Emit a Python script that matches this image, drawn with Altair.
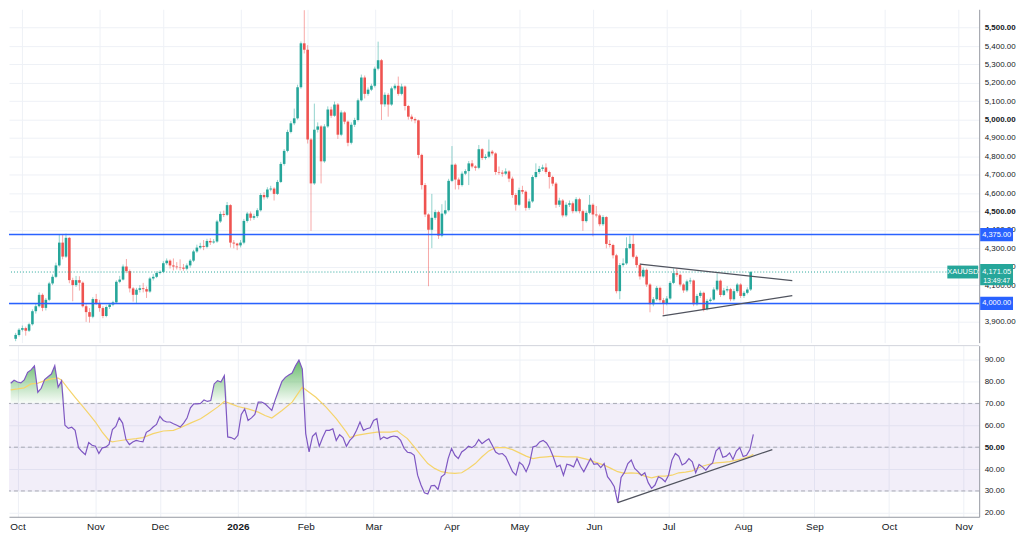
import json
import altair as alt
import pandas as pd

W = 975
H_PRICE = 335
H_RSI = 172
UP = "#26a69a"
DOWN = "#ef5350"
BLUE = "#2962ff"
GRID = "#eef1f6"
FONT = "Liberation Sans"

opens = [3808, 3829, 3857, 3866, 3852, 3887, 3958, 3985, 4047, 3976,
         4020, 4109, 4145, 4207, 4331, 4255, 4357, 4127, 4100, 4127,
         4113, 3985, 3953, 3928, 4024, 4003, 3975, 3932, 3981, 3994,
         4006, 4118, 4130, 4201, 4176, 4082, 4047, 4074, 4083, 4078,
         4065, 4136, 4145, 4166, 4172, 4219, 4233, 4207, 4201, 4197,
         4195, 4189, 4207, 4233, 4283, 4304, 4313, 4308, 4340, 4332,
         4337, 4446, 4487, 4482, 4535, 4331, 4326, 4316, 4331, 4449,
         4489, 4466, 4475, 4507, 4590, 4578, 4620, 4625, 4596, 4661,
         4759, 4830, 4933, 4980, 5007, 5176, 5415, 5380, 4892, 4653,
         4945, 4963, 4773, 4963, 5055, 5021, 5082, 4918, 5039, 4989,
         4874, 4972, 4998, 5105, 5229, 5140, 5163, 5184, 5277, 5323,
         5083, 5135, 5082, 5170, 5184, 5140, 5180, 5074, 5016, 5003,
         4996, 4808, 4644, 4484, 4401, 4466, 4497, 4369, 4489, 4507,
         4667, 4755, 4674, 4644, 4706, 4720, 4762, 4745, 4738, 4839,
         4791, 4798, 4826, 4816, 4715, 4712, 4706, 4718, 4679, 4590,
         4537, 4617, 4608, 4520, 4555, 4688, 4715, 4732, 4740, 4715,
         4688, 4652, 4537, 4560, 4479, 4537, 4545, 4502, 4567, 4502,
         4448, 4493, 4537, 4484, 4479, 4431, 4470, 4324, 4318, 4262,
         4067, 4209, 4218, 4301, 4324, 4254, 4209, 4147, 4183, 4103,
         3996, 4023, 4085, 4018, 4000, 4027, 4112, 4165, 4156, 4103,
         4071, 4120, 4125, 3996, 4041, 4058, 3970, 4014, 4021, 4076,
         4124, 4046, 4071, 4078, 4023, 4067, 4103, 4041, 4058, 4076]

highs = [3840, 3866, 3880, 3874, 3895, 3968, 3998, 4060, 4055, 4030,
         4118, 4158, 4222, 4378, 4378, 4380, 4362, 4140, 4150, 4148,
         4120, 3996, 3975, 4034, 4052, 4020, 3985, 3990, 4002, 4015,
         4126, 4150, 4212, 4242, 4185, 4090, 4085, 4100, 4112, 4092,
         4145, 4160, 4175, 4180, 4230, 4245, 4240, 4245, 4225, 4240,
         4215, 4218, 4242, 4292, 4320, 4330, 4345, 4352, 4355, 4350,
         4455, 4500, 4505, 4552, 4540, 4345, 4330, 4345, 4460, 4498,
         4500, 4488, 4518, 4600, 4605, 4632, 4640, 4632, 4672, 4770,
         4840, 4945, 4992, 5060, 5190, 5425, 5595, 5405, 4900, 5087,
         4985, 4970, 4975, 5072, 5070, 5098, 5090, 5050, 5045, 4995,
         4985, 5010, 5115, 5245, 5240, 5175, 5195, 5288, 5424, 5330,
         5148, 5145, 5180, 5195, 5234, 5195, 5186, 5080, 5028, 5012,
         5000, 4815, 4655, 4490, 4596, 4510, 4505, 4540, 4560, 4678,
         4856, 4762, 4685, 4718, 4730, 4775, 4780, 4752, 4862, 4845,
         4812, 4892, 4835, 4822, 4745, 4725, 4735, 4725, 4690, 4600,
         4630, 4640, 4615, 4570, 4698, 4762, 4748, 4755, 4762, 4722,
         4695, 4660, 4575, 4568, 4550, 4560, 4555, 4578, 4575, 4510,
         4505, 4590, 4545, 4530, 4488, 4480, 4475, 4345, 4325, 4270,
         4220, 4245, 4360, 4369, 4377, 4262, 4218, 4195, 4190, 4110,
         4035, 4095, 4092, 4030, 4040, 4122, 4191, 4190, 4162, 4110,
         4130, 4140, 4130, 4052, 4070, 4064, 4025, 4032, 4088, 4165,
         4130, 4085, 4095, 4085, 4080, 4112, 4110, 4068, 4088, 4176]

lows = [3795, 3820, 3848, 3825, 3845, 3880, 3945, 3978, 3958, 3962,
        4012, 4100, 4138, 4200, 4240, 4248, 4110, 4012, 4090, 4070,
        3978, 3900, 3896, 3920, 3992, 3955, 3920, 3925, 3970, 3985,
        4000, 4110, 4125, 4165, 4060, 4010, 4003, 4060, 4060, 4030,
        4058, 4125, 4138, 4158, 4165, 4210, 4190, 4180, 4185, 4180,
        4178, 4180, 4195, 4225, 4275, 4295, 4290, 4300, 4318, 4325,
        4330, 4438, 4470, 4475, 4304, 4300, 4290, 4305, 4322, 4440,
        4450, 4455, 4465, 4500, 4565, 4570, 4610, 4560, 4590, 4655,
        4750, 4822, 4925, 4970, 5000, 5168, 5360, 4870, 4395, 4645,
        4930, 4653, 4765, 4955, 5010, 5015, 4895, 4910, 4975, 4855,
        4865, 4960, 4990, 5098, 5115, 5130, 5155, 5175, 5268, 4998,
        5070, 5016, 5075, 5160, 5130, 5132, 5050, 5000, 4990, 4980,
        4790, 4620, 4470, 4094, 4301, 4455, 4351, 4360, 4480, 4500,
        4660, 4620, 4620, 4636, 4698, 4644, 4735, 4722, 4730, 4780,
        4782, 4790, 4805, 4700, 4700, 4690, 4698, 4660, 4575, 4505,
        4530, 4595, 4505, 4510, 4548, 4680, 4705, 4720, 4705, 4625,
        4638, 4520, 4525, 4468, 4470, 4525, 4490, 4495, 4490, 4395,
        4440, 4485, 4365, 4468, 4420, 4422, 4300, 4305, 4245, 4055,
        4023, 4200, 4210, 4295, 4245, 4195, 4130, 4140, 4090, 3952,
        3985, 4015, 4005, 3940, 3990, 4020, 4105, 4145, 4092, 4058,
        4062, 4105, 3985, 3988, 4030, 3957, 3962, 4005, 4015, 4068,
        4035, 4040, 4060, 4012, 4015, 4058, 4030, 4030, 4050, 4068]

closes = [3829, 3857, 3866, 3852, 3887, 3958, 3985, 4047, 3976, 4020,
          4109, 4145, 4207, 4331, 4255, 4357, 4127, 4100, 4127, 4113,
          3985, 3953, 3928, 4024, 4003, 3975, 3932, 3981, 3994, 4006,
          4118, 4130, 4201, 4176, 4082, 4047, 4074, 4083, 4078, 4065,
          4136, 4145, 4166, 4172, 4219, 4233, 4207, 4201, 4197, 4195,
          4189, 4207, 4233, 4283, 4304, 4313, 4308, 4340, 4332, 4337,
          4446, 4487, 4482, 4535, 4331, 4326, 4316, 4331, 4449, 4489,
          4466, 4475, 4507, 4590, 4578, 4620, 4625, 4596, 4661, 4759,
          4830, 4933, 4980, 5007, 5176, 5415, 5380, 4892, 4653, 4945,
          4963, 4773, 4963, 5055, 5021, 5082, 4918, 5039, 4989, 4874,
          4972, 4998, 5105, 5229, 5140, 5163, 5184, 5277, 5323, 5083,
          5135, 5082, 5170, 5184, 5140, 5180, 5074, 5016, 5003, 4996,
          4808, 4644, 4484, 4401, 4466, 4497, 4369, 4489, 4507, 4667,
          4755, 4674, 4644, 4706, 4720, 4762, 4745, 4738, 4839, 4791,
          4798, 4826, 4816, 4715, 4712, 4706, 4718, 4679, 4590, 4537,
          4617, 4608, 4520, 4555, 4688, 4715, 4732, 4740, 4715, 4688,
          4652, 4537, 4560, 4479, 4537, 4545, 4502, 4567, 4502, 4448,
          4493, 4537, 4484, 4479, 4431, 4470, 4324, 4318, 4262, 4067,
          4209, 4218, 4301, 4324, 4254, 4209, 4147, 4183, 4103, 3996,
          4023, 4085, 4018, 4000, 4027, 4112, 4165, 4156, 4103, 4071,
          4120, 4125, 3996, 4041, 4058, 3970, 4014, 4021, 4076, 4124,
          4046, 4071, 4078, 4023, 4067, 4103, 4041, 4058, 4076, 4171]

rsi_vals = [79.2, 80.6, 79.8, 79.4, 80.7, 84.2, 85.3, 87.1, 75.1, 76.9,
            80.9, 82.2, 83.4, 87.2, 77.4, 80.3, 60.0, 58.6, 59.1, 57.7,
            49.8, 48.0, 46.6, 52.1, 50.9, 50.4, 47.1, 49.7, 50.0, 51.3,
            58.0, 59.5, 63.4, 61.0, 53.5, 51.2, 52.4, 53.1, 52.7, 52.4,
            56.8, 57.7, 59.2, 60.4, 64.1, 62.2, 61.5, 61.5, 60.7, 60.0,
            59.2, 61.0, 63.3, 68.0, 69.8, 69.8, 70.0, 71.6, 70.9, 71.3,
            78.9, 80.4, 79.8, 82.7, 54.7, 54.4, 53.6, 55.4, 65.0, 67.5,
            62.2, 63.4, 65.0, 70.6, 70.6, 69.8, 68.3, 66.8, 71.6, 75.9,
            80.1, 81.9, 83.0, 83.9, 87.2, 89.8, 85.7, 56.2, 47.8, 55.0,
            56.5, 50.4, 54.4, 57.7, 57.7, 58.4, 53.1, 55.7, 54.4, 50.4,
            53.1, 54.7, 57.7, 61.5, 57.7, 58.4, 58.9, 62.2, 63.0, 53.5,
            54.7, 53.9, 54.7, 55.1, 54.7, 53.1, 49.5, 47.7, 47.4, 46.3,
            37.2, 32.7, 29.2, 28.6, 32.4, 32.5, 30.7, 36.5, 37.7, 44.8,
            49.4, 46.3, 44.8, 47.8, 48.9, 50.4, 49.8, 50.9, 53.5, 51.6,
            52.8, 53.8, 50.9, 47.8, 46.8, 47.1, 45.6, 42.2, 38.8, 37.2,
            43.1, 41.8, 38.8, 42.5, 50.1, 50.6, 52.4, 53.1, 51.9, 49.4,
            45.6, 41.0, 41.8, 37.2, 42.2, 41.8, 41.0, 44.8, 41.3, 38.8,
            41.8, 44.8, 42.2, 42.5, 40.7, 42.5, 36.5, 34.5, 31.9, 24.7,
            36.2, 38.5, 42.5, 44.1, 40.3, 38.8, 37.1, 38.3, 33.8, 31.2,
            32.7, 36.5, 35.7, 34.2, 37.2, 44.1, 47.1, 45.9, 41.9, 42.8,
            44.8, 43.3, 38.3, 42.1, 41.0, 39.5, 41.6, 42.8, 48.3, 49.8,
            45.4, 45.9, 47.4, 44.4, 48.2, 49.8, 45.7, 46.3, 48.9, 55.9]

ma_bars = [0, 2, 4, 6, 8, 10, 12, 14, 15, 17, 19, 21, 23, 25, 27, 29, 30, 31, 34, 37,
           39, 42, 45, 48, 50, 53, 56, 58, 61, 63, 65, 67, 70, 73, 75, 77, 80, 83, 86, 88,
           90, 93, 96, 99, 100, 102, 105, 108, 110, 112, 114, 115, 117, 119, 121, 123, 125, 127, 129, 131,
           133, 135, 137, 139, 141, 143, 145, 146, 148, 150, 152, 154, 156, 158, 160, 164, 167, 170, 173, 175,
           177, 179, 181, 183, 185, 187, 189, 191, 193, 195, 197, 199, 201, 202, 204, 206, 208, 210, 212, 214,
           216, 218, 219]
ma_vals = [76.2, 76.6, 77.1, 78.9, 79.2, 80.4, 81.2, 81.6, 80.6, 76.6, 72.8, 69.1, 65.3, 61.5, 56.9, 53.1, 52.4, 52.7, 53.4, 53.9,
           54.4, 56.2, 57.4, 57.7, 58.9, 61.0, 63.0, 65.0, 68.3, 70.9, 69.8, 68.6, 67.5, 66.0, 64.5, 63.3, 66.8, 70.6, 77.4, 75.1,
           72.8, 68.3, 63.0, 56.9, 54.4, 55.4, 56.2, 56.9, 56.9, 56.9, 57.4, 56.2, 53.9, 50.1, 46.3, 42.5, 40.3, 38.8, 38.3, 38.0,
           38.3, 40.3, 42.5, 45.6, 48.3, 49.8, 49.8, 49.8, 48.9, 47.4, 45.9, 44.8, 45.3, 45.6, 45.9, 45.6, 45.6, 44.4, 42.8, 41.8,
           40.3, 38.8, 38.0, 38.3, 38.0, 36.8, 36.0, 36.8, 36.8, 37.2, 38.3, 38.6, 39.2, 40.0, 41.3, 42.2, 42.8, 43.1, 43.4, 44.1,
           44.8, 45.9, 46.8]

month_bars = [2, 25, 44, 67, 87, 107, 130, 150, 172, 194, 216, 237, 259, 281]
month_labels = ["Oct", "Nov", "Dec", "2026", "Feb", "Mar", "Apr", "May", "Jun", "Jul", "Aug", "Sep", "Oct", "Nov"]
price_ticks = list(range(3900, 5501, 100))
rsi_ticks = list(range(20, 91, 10))
rsi_levels = [70, 50, 30]
levels = [4375, 4000]
level_labels = ["4,375.00", "4,000.00"]
last_price = 4171.05
last_label = "4,171.05"
timer_label = "13:49:47"
symbol = "XAUUSD"

tri_x = [186.0, 192.75]
tri_y = [4214.5, 3932.6]
tri_x2 = [231.4, 231.4]
tri_y2 = [4124.0, 4042.5]
rsi_tr_x = [179.0]
rsi_tr_y = [24.7]
rsi_tr_x2 = [224.6]
rsi_tr_y2 = [48.9]

bars = list(range(len(closes)))
df = pd.DataFrame(dict(bar=bars, open=opens, high=highs, low=lows, close=closes))

x_scale = alt.Scale(domain=[-0.5, 285.6], nice=False, zero=False)
y_scale = alt.Scale(domain=[3787, 5600], nice=False, zero=False)
rsi_scale = alt.Scale(domain=[18.2, 96.4], nice=False, zero=False)

# the 4,000.00 level box sits exactly on the 4,000 tick, so that tick shows its text only in the box
price_label_expr = "datum.value === %d ? '' : format(datum.value, ',.2f')" % levels[1]

x_axis_price = alt.Axis(values=month_bars, tickCount=40, labels=False, ticks=False, domain=False,
                        grid=True, gridColor=GRID, title=None)
y_axis_price = alt.Axis(orient="right", values=price_ticks, tickCount=40, labelExpr=price_label_expr,
                        labelFontSize=8, labelColor="#131722", labelFont=FONT, grid=True, gridColor=GRID,
                        ticks=False, domain=True, domainColor="#9598a1", labelPadding=5,
                        labelOverlap=False, title=None,
                        labelFontWeight={"condition": {"test": "datum.value % 500 === 0", "value": "bold"},
                                         "value": "normal"})

cond = alt.condition("datum.close >= datum.open", alt.value(UP), alt.value(DOWN))

base = alt.Chart(df)
wicks = base.mark_rule(strokeWidth=1, opacity=0.5).encode(
    x=alt.X("bar:Q", scale=x_scale, axis=x_axis_price),
    y=alt.Y("low:Q", scale=y_scale, axis=y_axis_price, title=None),
    y2="high:Q",
    color=cond,
)
bodies = base.mark_bar(size=2.6).encode(
    x="bar:Q", y=alt.Y("open:Q", title=None), y2="close:Q", color=cond
)

df_levels = pd.DataFrame({"level": levels, "label": level_labels})
level_rules = alt.Chart(df_levels).mark_rule(color=BLUE, strokeWidth=1.5).encode(
    y=alt.Y("level:Q", title=None))
level_boxes = alt.Chart(df_levels).transform_calculate(
    top="datum.level + 36", bot="datum.level - 36"
).mark_rect(color=BLUE).encode(
    y=alt.Y("top:Q", title=None), y2="bot:Q", x=alt.value(W + 1), x2=alt.value(W + 34))
level_text = alt.Chart(df_levels).mark_text(
    color="white", fontSize=7.5, align="left", baseline="middle", font=FONT
).encode(y=alt.Y("level:Q", title=None), x=alt.value(W + 3), text="label:N")

df_last = pd.DataFrame({"price": [last_price], "label": [last_label],
                        "timer": [timer_label], "sym": [symbol]})
last_rule = alt.Chart(df_last).mark_rule(color=UP, strokeDash=[1, 2], strokeWidth=1).encode(
    y=alt.Y("price:Q", title=None))
last_box = alt.Chart(df_last).transform_calculate(
    top="datum.price + 44", bot="datum.price - 72"
).mark_rect(color=UP).encode(
    y=alt.Y("top:Q", title=None), y2="bot:Q", x=alt.value(W + 1), x2=alt.value(W + 34))
last_text = alt.Chart(df_last).mark_text(
    color="white", fontSize=7.5, align="left", baseline="middle", font=FONT
).encode(y=alt.Y("price:Q", title=None), x=alt.value(W + 3), text="label:N")
timer_text = alt.Chart(df_last).mark_text(
    color="white", fontSize=7, align="left", baseline="middle", font=FONT, dy=9
).encode(y=alt.Y("price:Q", title=None), x=alt.value(W + 4), text="timer:N")
sym_box = alt.Chart(df_last).transform_calculate(
    top="datum.price + 35", bot="datum.price - 35"
).mark_rect(color=UP).encode(
    y=alt.Y("top:Q", title=None), y2="bot:Q", x=alt.value(W - 32), x2=alt.value(W - 1))
sym_text = alt.Chart(df_last).mark_text(
    color="white", fontSize=7.5, align="center", baseline="middle", font=FONT
).encode(y=alt.Y("price:Q", title=None), x=alt.value(W - 16.5), text="sym:N")

df_tri = pd.DataFrame({"x": tri_x, "y": tri_y, "x2": tri_x2, "y2": tri_y2})
tri = alt.Chart(df_tri).mark_rule(color="#50535e", strokeWidth=1.3).encode(
    x="x:Q", y=alt.Y("y:Q", title=None), x2="x2:Q", y2="y2:Q")

price_chart = alt.layer(
    wicks, bodies, level_rules, last_rule, tri, level_boxes, level_text,
    last_box, last_text, timer_text, sym_box, sym_text
).properties(width=W, height=H_PRICE)

# ---------------- RSI pane ----------------
labels_expr = "{}[indexof({}, datum.value)]".format(json.dumps(month_labels), json.dumps(month_bars))
x_axis_rsi = alt.Axis(values=month_bars, tickCount=40, labelExpr=labels_expr, grid=True, gridColor=GRID,
                      ticks=False, domain=True, domainColor="#9598a1", labelFontSize=10,
                      labelColor="#131722", labelFont=FONT, labelPadding=5, title=None,
                      labelOverlap=False, labelFlush=False,
                      labelFontWeight={"condition": {"test": "datum.value === %d" % month_bars[3], "value": "bold"},
                                       "value": "normal"})
y_axis_rsi = alt.Axis(orient="right", values=rsi_ticks, tickCount=40, format=".2f", labelFontSize=8,
                      labelColor="#131722", labelFont=FONT, grid=True, gridColor=GRID,
                      ticks=False, domain=True, domainColor="#9598a1", labelPadding=5,
                      labelOverlap=False, title=None,
                      labelFontWeight={"condition": {"test": "datum.value === 50", "value": "bold"},
                                       "value": "normal"})

rsi_df = pd.DataFrame({"bar": bars, "rsi": rsi_vals})
ma_df = pd.DataFrame({"bar": ma_bars, "ma": ma_vals})

band = alt.Chart(pd.DataFrame({"lo": [30], "hi": [70]})).mark_rect(
    color="#7e57c2", opacity=0.1
).encode(y=alt.Y("lo:Q", scale=rsi_scale, axis=y_axis_rsi, title=None), y2="hi:Q",
         x=alt.value(0), x2=alt.value(W))

dashed = alt.Chart(pd.DataFrame({"lvl": rsi_levels})).mark_rule(
    color="#9598a1", strokeDash=[4, 3], strokeWidth=1, opacity=0.8
).encode(y=alt.Y("lvl:Q", title=None))

gradient = alt.Gradient(
    gradient="linear",
    stops=[alt.GradientStop(color="rgba(76,175,80,0.85)", offset=0),
           alt.GradientStop(color="rgba(76,175,80,0.03)", offset=1)],
    x1=1, x2=1, y1=0, y2=1,
)
ob_area = alt.Chart(rsi_df).transform_calculate(top="max(datum.rsi, 70)").mark_area(
    color=gradient
).encode(x=alt.X("bar:Q", scale=x_scale, axis=x_axis_rsi), y=alt.Y("top:Q", title=None),
         y2=alt.datum(70))

ma_line = alt.Chart(ma_df).mark_line(color="#f5d46b", strokeWidth=1.2).encode(
    x="bar:Q", y=alt.Y("ma:Q", title=None))
rsi_line = alt.Chart(rsi_df).mark_line(color="#7e57c2", strokeWidth=1.2).encode(
    x="bar:Q", y=alt.Y("rsi:Q", title=None))

df_rtr = pd.DataFrame({"x": rsi_tr_x, "y": rsi_tr_y, "x2": rsi_tr_x2, "y2": rsi_tr_y2})
rsi_trend = alt.Chart(df_rtr).mark_rule(color="#50535e", strokeWidth=1.3).encode(
    x="x:Q", y=alt.Y("y:Q", title=None), x2="x2:Q", y2="y2:Q")

separator = alt.Chart(pd.DataFrame({"v": [96.4]})).mark_rule(color="#d1d4dc", strokeWidth=1).encode(
    y=alt.Y("v:Q", title=None))

rsi_chart = alt.layer(
    band, dashed, ob_area, ma_line, rsi_line, rsi_trend, separator
).properties(width=W, height=H_RSI)

chart = alt.vconcat(price_chart, rsi_chart, spacing=2).resolve_scale(
    y="independent"
).properties(padding=0, background="white").configure_view(
    strokeWidth=0
).configure_axisY(labelOverlap=False)

chart.save("out.html", embed_options={"renderer": "svg", "actions": False})
